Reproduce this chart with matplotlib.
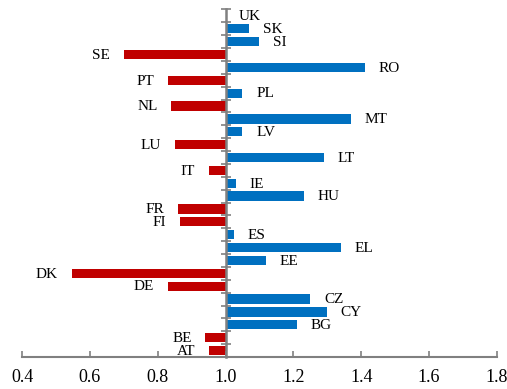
import numpy as np
import matplotlib.pyplot as plt
from matplotlib.ticker import FixedLocator

# data, bottom to top
countries = ["AT", "BE", "BG", "CY", "CZ", "DE", "DK", "EE", "EL", "ES",
             "FI", "FR", "HU", "IE", "IT", "LT", "LU", "LV", "MT", "NL",
             "PL", "PT", "RO", "SE", "SI", "SK", "UK"]
ratios = [0.95, 0.94, 1.21, 1.30, 1.25, 0.83, 0.546, 1.12, 1.34, 1.025,
          0.865, 0.86, 1.23, 1.03, 0.95, 1.29, 0.85, 1.05, 1.37, 0.84,
          1.05, 0.83, 1.41, 0.70, 1.10, 1.07, 1.0]
x_ticks = [0.4, 0.6, 0.8, 1.0, 1.2, 1.4, 1.6, 1.8]

plt.rcParams['font.family'] = ['Liberation Serif', 'DejaVu Serif']

fig = plt.figure(figsize=(5.07, 3.89), dpi=100)
ax = fig.add_axes([0.0434, 0.0823, 0.9366, 0.8933])

base = 1.0
ys = np.arange(len(countries))
vals = np.array(ratios)
cols = np.where(vals >= base, "#0070C0", "#C00000")

# bars start at the baseline 1.0
ax.barh(ys, vals - base, left=base, height=0.72, color=cols)

# labels beyond the bar ends
off = 0.04
for y, v, name in zip(ys, vals, countries):
    if v >= base:
        ax.text(v + off, y - 0.06, name, ha="left", va="center", fontsize=11, color="black")
    else:
        ax.text(v - off, y - 0.06, name, ha="right", va="center", fontsize=11, color="black")

ax.set_xlim(0.4, 1.8)
ax.set_ylim(-0.5, len(countries) - 0.5)
ax.xaxis.set_major_locator(FixedLocator(x_ticks))
ax.set_xticklabels([f"{t:.1f}" for t in x_ticks], fontsize=13, color="black")

# axes styling
grey = "#808080"
ax.spines["top"].set_visible(False)
ax.spines["right"].set_visible(False)
ax.spines["left"].set_position(("data", base))
ax.spines["left"].set_color(grey)
ax.spines["left"].set_linewidth(1.8)
ax.spines["bottom"].set_color(grey)
ax.spines["bottom"].set_linewidth(1.5)

ax.tick_params(axis="x", direction="in", length=4, width=1.2, color=grey, pad=9)
ax.yaxis.set_major_locator(FixedLocator([]))
ax.yaxis.set_minor_locator(FixedLocator(np.arange(-0.5, len(countries), 1.0)))
ax.tick_params(axis="y", which="minor", direction="inout", length=7, width=1.2, color=grey)

fig.savefig("out.png", dpi=100)
